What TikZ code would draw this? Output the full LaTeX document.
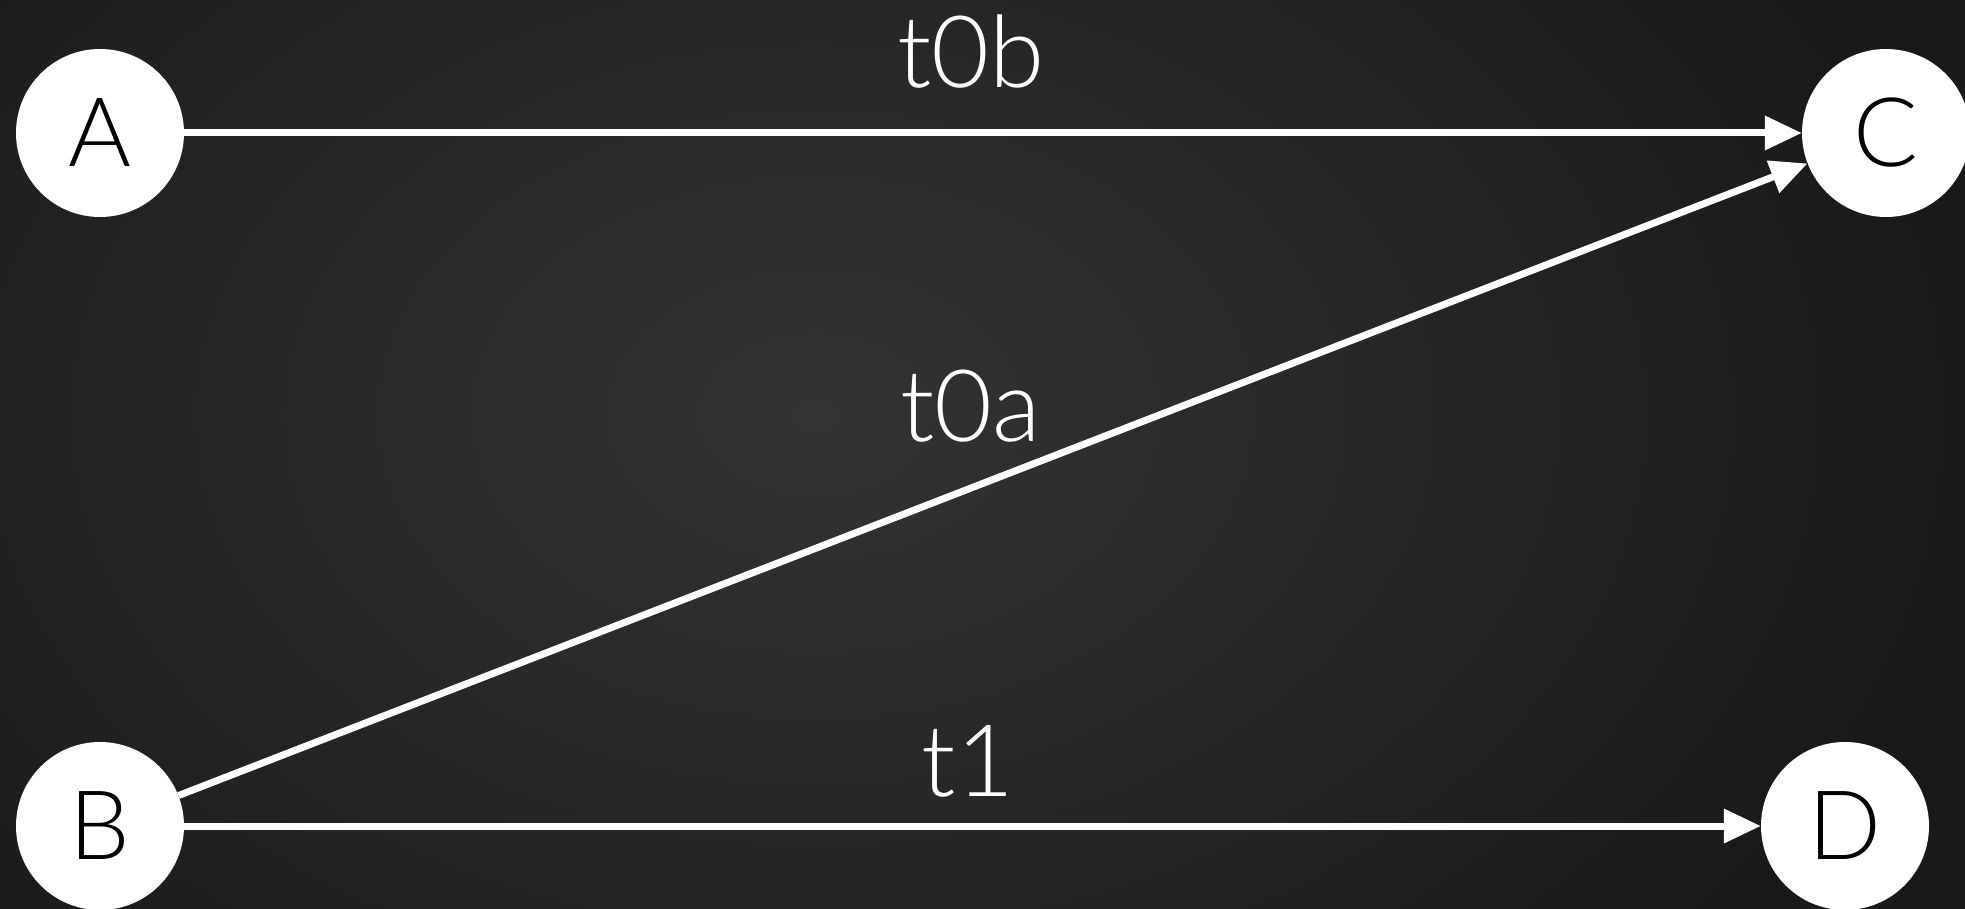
\documentclass[tikz,border=0pt]{standalone}
\usepackage{fontspec}
\setmainfont{Lato Light}
\usetikzlibrary{arrows.meta}
\begin{document}
\begin{tikzpicture}[x=1pt,y=-1pt,
  state/.style={circle,fill=white,minimum size=168pt,inner sep=0pt,text=black,font=\fontsize{96}{96}\selectfont},
  trans/.style={draw=white,line width=7pt,-{Triangle[length=37pt,width=33pt]}},
  lbl/.style={text=white,anchor=base,font=\fontsize{100}{100}\selectfont}]
\useasboundingbox (0,0) rectangle (1965,909);
\begin{scope}
\clip (0,0) rectangle (1965,909);
\fill[black!90] (0,0) rectangle (1965,909);
\shade[inner color={rgb,255:red,51;green,52;blue,50},outer color={rgb,255:red,25;green,25;blue,25}] (815,414) circle[x radius=1150pt,y radius=800pt];
\node[state] (A) at (100,133) {A};
\node[state] (C) at (1886,133) {C};
\node[state] (B) at (100,826) {B};
\node[state] (D) at (1845,826) {D};
\draw[trans] (A) -- (C);
\draw[trans] (B) -- (C);
\draw[trans] (B) -- (D);
\end{scope}
\node[lbl] (l0b) at (971,88) {t0b};
\node[lbl] (l0a) at (971,441) {t0a};
\node[lbl] (l1) at (968,796) {t1};
\end{tikzpicture}
\end{document}
